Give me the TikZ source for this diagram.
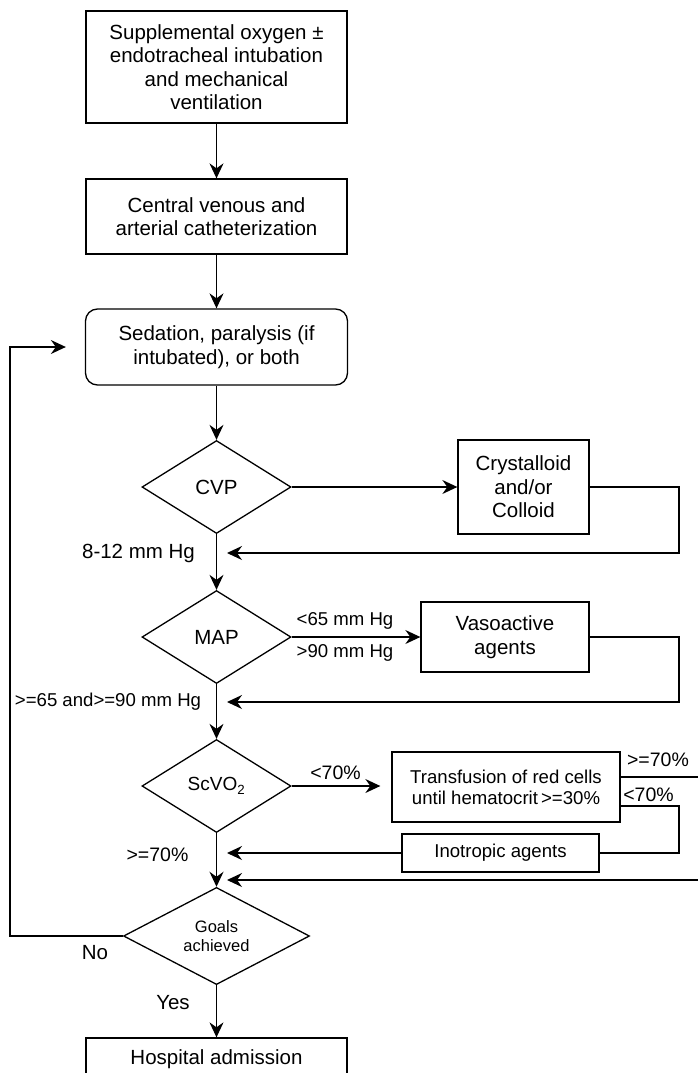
\documentclass[tikz,border=0pt]{standalone}
\usepackage{fontspec}
\setmainfont{Liberation Sans}
\usetikzlibrary{shapes.geometric,arrows.meta}

\begin{document}
\begin{tikzpicture}[x=1pt,y=-1pt]
    % Define basic node styles
    \tikzset{
        block/.style={
            rectangle,
            draw,
            line width=1.3pt,
            inner sep=0pt,
            align=center,
            font=\fontsize{20.5}{23.5}\selectfont
        },
        decision/.style={
            diamond,
            draw,
            line width=1.3pt,
            inner sep=0pt,
            minimum width=149pt,
            minimum height=93pt,
            align=center,
            font=\fontsize{20.5}{23.5}\selectfont
        },
        arrowline/.style={
            line width=1.3pt,
            -{Stealth[length=15pt,width=14pt,inset=5pt]}
        },
        lbl/.style={
            inner sep=0pt,
            font=\fontsize{18.6}{21}\selectfont
        },
        biglbl/.style={
            inner sep=0pt,
            font=\fontsize{20.5}{23.5}\selectfont
        }
    }
    \useasboundingbox (0,0) rectangle (697,1073);

    % Main column
    \node[block, minimum width=261pt, minimum height=112pt] (oxygen) at (216.5,67) {Supplemental oxygen ±\\endotracheal intubation\\and mechanical\\ventilation};
    \node[block, minimum width=261pt, minimum height=75pt] (catheter) at (216.5,216.5) {Central venous and\\arterial catheterization};
    \node[block, rounded corners=12pt, minimum width=262pt, minimum height=76pt] (sedation) at (216.5,347) {Sedation, paralysis (if\\intubated), or both};
    \node[decision] (cvp) at (216.5,487) {CVP};
    \node[decision] (map) at (216.5,637) {MAP};
    \node[decision, font=\fontsize{19}{22}\selectfont] (scvo) at (216.5,786) {ScVO\textsubscript{2}};
    \node[decision, minimum width=186pt, font=\fontsize{16.5}{19}\selectfont] (goals) at (216.5,936) {Goals\\achieved};
    \node[block, minimum width=261pt, minimum height=42pt] (hospital) at (216.5,1059) {Hospital admission};

    % Treatment boxes (right)
    \node[block, minimum width=131pt, minimum height=94pt] (fluid) at (523.5,487) {Crystalloid\\and/or\\Colloid};
    \node[block, minimum width=168pt, minimum height=70pt] (vaso) at (505,637) {Vasoactive\\agents};
    \node[block, minimum width=228pt, minimum height=70pt, font=\fontsize{18.6}{21}\selectfont] (transfusion) at (506,787) {Transfusion of red cells\\until hematocrit\,>=30\%};
    \node[block, minimum width=197pt, minimum height=38pt, font=\fontsize{18.6}{21}\selectfont] (inotropic) at (500.5,853) {Inotropic agents};

    % Helper coordinates
    \coordinate (rail) at (679,0);
    \coordinate (edge) at (706,0);
    \coordinate (loopx) at (10,347);
    \coordinate (j1) at (216.5,553);
    \coordinate (j2) at (216.5,702);
    \coordinate (j3) at (216.5,853);
    \coordinate (j4) at (216.5,880);

    % Main flow
    \draw[arrowline] (oxygen) -- (catheter);
    \draw[arrowline] (catheter) -- (sedation);
    \draw[arrowline] (sedation) -- (cvp);
    \draw[arrowline] (cvp) -- (map);
    \draw[arrowline] (map) -- (scvo);
    \draw[arrowline] (scvo) -- (goals);
    \draw[arrowline] (goals) -- (hospital);

    % Side branches
    \draw[arrowline] (cvp) -- (fluid);
    \draw[arrowline] (map) -- (vaso);
    \draw[arrowline, shorten >=11pt] (scvo.east) -- (scvo.east -| transfusion.west);

    % Returns to the main column
    \draw[arrowline, shorten >=10.5pt] (fluid.east) -- (fluid.east -| rail) |- (j1);
    \draw[arrowline, shorten >=10.5pt] (vaso.east) -- (vaso.east -| rail) |- (j2);
    \draw[line width=1.3pt] ([yshift=-19pt]transfusion.east) -| (inotropic.east -| rail) -- (inotropic.east);
    \draw[arrowline, shorten >=10.5pt] (inotropic.west) -- (j3);
    \draw[arrowline, shorten >=10.5pt] ([yshift=10pt]transfusion.east) -| (edge |- j4) -- (j4);

    % Loop back when goals are not achieved
    \draw[arrowline, shorten >=19pt] (goals.west) -| (loopx) -- (sedation.west);

    % Labels
    \node[biglbl] (cvpok) at (138.5,553) {8-12 mm Hg};
    \node[lbl] (maplow) at (345,621) {<65 mm Hg};
    \node[lbl] (maphigh) at (345,653) {>90 mm Hg};
    \node[lbl] (mapok) at (108,702) {>=65 and>=90 mm Hg};
    \node[lbl, font=\fontsize{19.5}{22}\selectfont] (scvolow) at (335.5,773) {<70\%};
    \node[lbl, font=\fontsize{19.5}{22}\selectfont] (transok) at (658,760) {>=70\%};
    \node[lbl, font=\fontsize{19.5}{22}\selectfont] (translow) at (648.5,795) {<70\%};
    \node[lbl, font=\fontsize{19.5}{22}\selectfont] (scvook) at (157.5,855) {>=70\%};
    \node[biglbl] (nolbl) at (95,953) {No};
    \node[biglbl] (yeslbl) at (173,1003) {Yes};
\end{tikzpicture}
\end{document}
